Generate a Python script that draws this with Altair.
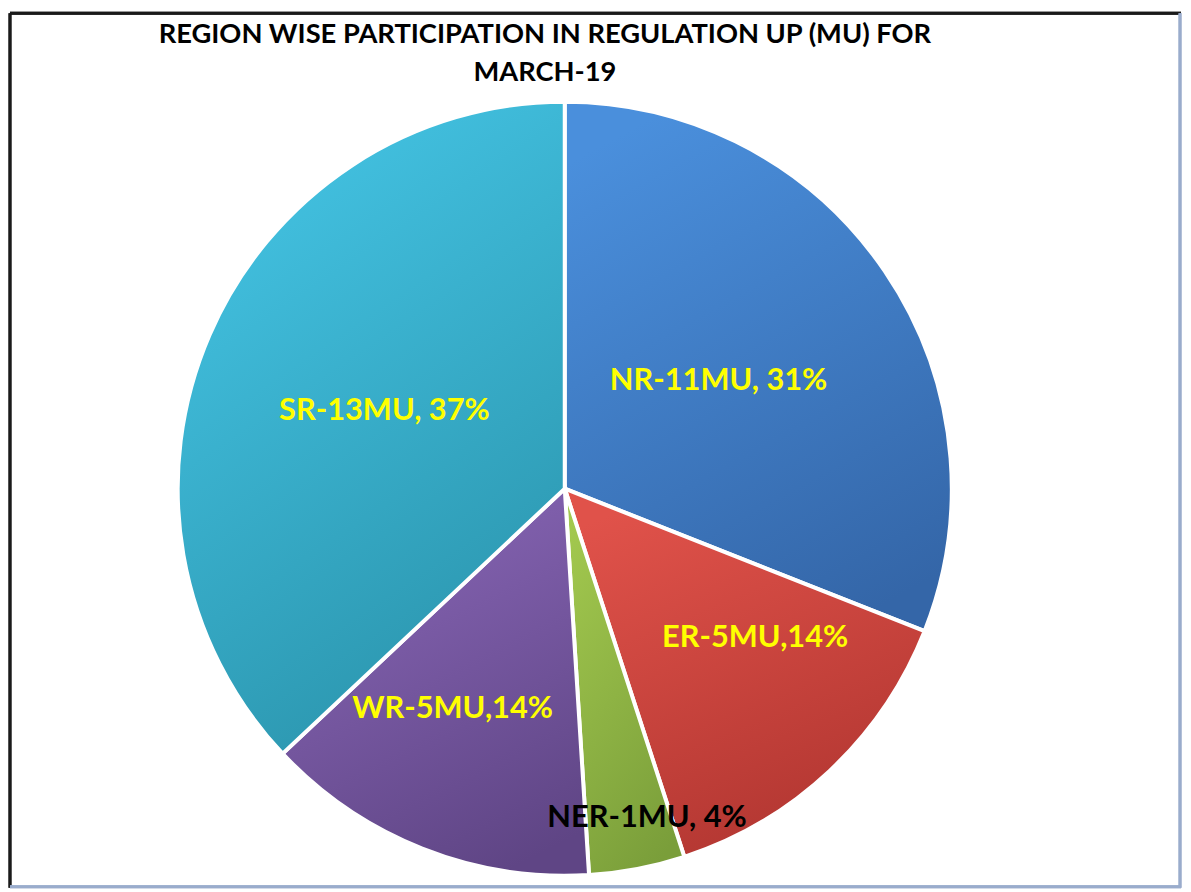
import altair as alt
import pandas as pd

# ---- data ----
regions = ["NR", "ER", "NER", "WR", "SR"]
energy_mu = [11, 5, 1, 5, 13]
share_pct = [31, 14, 4, 14, 37]
labels = ["NR-11MU, 31%", "ER-5MU,14%", "NER-1MU, 4%", "WR-5MU,14%", "SR-13MU, 37%"]
title_lines = ["REGION WISE PARTICIPATION IN REGULATION UP (MU) FOR", "MARCH-19"]

# ---- styles ----
top_colors = ["#4a8fdc", "#e0524a", "#a2c84e", "#8866b6", "#44c4e4"]
bottom_colors = ["#3466a8", "#b03530", "#7a9e3a", "#5f4585", "#2a93ab"]
label_colors = ["#ffff00", "#ffff00", "#000000", "#ffff00", "#ffff00"]
label_radius = [189, 244, 342, 249, 198]
label_theta_shift = [-0.2, -2.4, -0.9, 1.5, 0.0]

W, H = 1180, 881
CX, CY, R = 559, 479, 390
FONT = "Lato"

rows = []
start = 0.0
for i, (reg, v) in enumerate(zip(regions, share_pct)):
    rows.append(dict(region=reg, mu=energy_mu[i], pct=v, start=start, end=start + v,
                     lt=start + v / 2 + label_theta_shift[i], label=labels[i],
                     lr=label_radius[i], lcolor=label_colors[i]))
    start += v
df = pd.DataFrame(rows)

theta_scale = alt.Scale(domain=[0, 100], range=[0, 6.283185307179586])
base = alt.Chart(df)

layers = []
for i, reg in enumerate(regions):
    grad = alt.LinearGradient(
        gradient="linear",
        stops=[alt.GradientStop(color=top_colors[i], offset=0),
               alt.GradientStop(color=bottom_colors[i], offset=1)],
        x1=0.3, y1=0, x2=0.7, y2=1,
    )
    layers.append(
        base.transform_filter(alt.datum.region == reg)
        .mark_arc(radius=R, fill=grad, stroke="white", strokeWidth=4, strokeJoin="miter")
        .encode(
            theta=alt.Theta("start:Q", scale=theta_scale),
            theta2="end:Q",
            x=alt.value(CX),
            y=alt.value(CY),
            tooltip=["region:N", "mu:Q", "pct:Q"],
        )
    )

text = base.mark_text(font=FONT, fontSize=31, fontWeight="bold", align="center",
                      baseline="middle").encode(
    theta=alt.Theta("lt:Q", scale=theta_scale),
    radius=alt.Radius("lr:Q", scale=None),
    x=alt.value(CX),
    y=alt.value(CY),
    text="label:N",
    color=alt.Color("lcolor:N", scale=None),
)

title_df = pd.DataFrame({"t": title_lines, "line": [0, 1]})
title = alt.Chart(title_df).mark_text(font=FONT, fontSize=27.5, fontWeight="bold",
                                      align="center", baseline="middle", color="#000000").encode(
    text="t:N",
    x=alt.value(539),
    y=alt.Y("line:Q", scale=alt.Scale(domain=[0, 1], range=[22, 60]), axis=None),
)

frame_top = alt.Chart(title_df).mark_rule(color="#1a1a1a", strokeWidth=3).encode(
    x=alt.value(0), x2=alt.value(W), y=alt.value(0))
frame_left = alt.Chart(title_df).mark_rule(color="#1a1a1a", strokeWidth=3).encode(
    x=alt.value(0), y=alt.value(0), y2=alt.value(H))
frame_right = alt.Chart(title_df).mark_rule(color="#9aaccc", strokeWidth=3).encode(
    x=alt.value(W - 1), y=alt.value(0), y2=alt.value(H))
frame_bottom = alt.Chart(title_df).mark_rule(color="#9aaccc", strokeWidth=3).encode(
    x=alt.value(0), x2=alt.value(W), y=alt.value(H - 1))

chart = alt.layer(*layers, text, title, frame_top, frame_left, frame_right, frame_bottom).resolve_scale(
    x="independent", y="independent"
).properties(width=W, height=H, padding=0, background="white").configure_view(stroke=None)

chart.save("out.html", embed_options={"renderer": "svg", "actions": False})
